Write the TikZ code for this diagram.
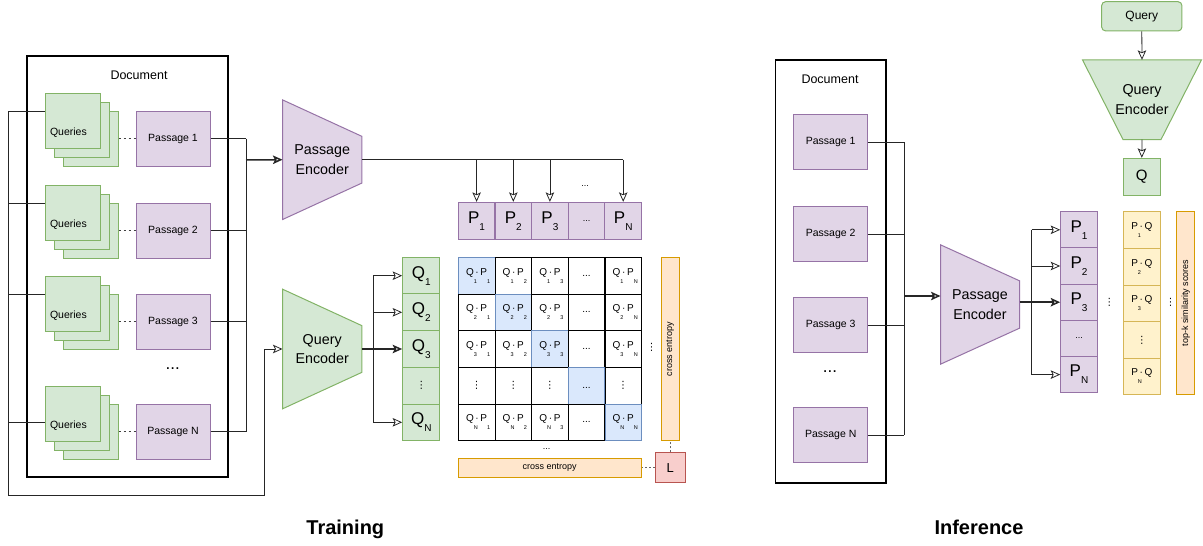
\documentclass[tikz,border=0pt]{standalone}
\usepackage{fontspec}
\setmainfont{Liberation Sans}
\newfontfamily\symfont{DejaVu Sans}
\usetikzlibrary{arrows.meta,backgrounds}

\definecolor{grnfill}{HTML}{D5E8D4}
\definecolor{grnline}{HTML}{82B366}
\definecolor{purfill}{HTML}{E1D5E7}
\definecolor{purline}{HTML}{9673A6}
\definecolor{blufill}{HTML}{DAE8FC}
\definecolor{bluline}{HTML}{6C8EBF}
\definecolor{orgfill}{HTML}{FFE6CC}
\definecolor{orgline}{HTML}{D79B00}
\definecolor{ylwfill}{HTML}{FFF2CC}
\definecolor{ylwline}{HTML}{D6B656}
\definecolor{redfill}{HTML}{F8CECC}
\definecolor{redline}{HTML}{B85450}

\newcommand{\fsz}[1]{\fontsize{#1}{#1}\selectfont}
\newcommand{\vdts}{{\symfont ⋮}}
% big letter with a low index
\newcommand{\vsub}[2]{#1\raisebox{-7pt}{\fsz{10}#2}}
% dot products with small indices under the letters
\newcommand{\qdp}[4]{#1\rlap{\raisebox{-8pt}{\fsz{5.5}#3}}\,·\,#2\rlap{\raisebox{-8pt}{\fsz{5.5}#4}}}
\newcommand{\pqd}[1]{P\rlap{\raisebox{-8pt}{\fsz{5.5}#1}}\,·\,Q}

\begin{document}
\begin{tikzpicture}[x=1pt, y=-1pt,
    link/.style={line width=0.8pt, draw=black!85},
    heavy/.style={line width=1.5pt},
    arr/.style={link, -{Stealth[open, length=9.5pt, width=8.5pt, inset=2pt]}},
    pairline/.style={line width=0.8pt, draw=black!75, dash pattern=on 2.5pt off 2.5pt},
    dotline/.style={line width=0.8pt, draw=black!60, dash pattern=on 2pt off 2pt},
    doc/.style={draw, line width=1.3pt, inner sep=0pt},
    gbox/.style={draw=grnline, fill=grnfill, line width=1pt, inner sep=0pt},
    pbox/.style={draw=purline, fill=purfill, line width=1pt, inner sep=0pt},
    qstack/.style={gbox, minimum width=55, minimum height=55},
    psg/.style={pbox, minimum width=74, minimum height=55, font=\fsz{10.5}},
    enc/.style={inner sep=0pt, align=center, font=\fontsize{14.3}{19.3}\selectfont},
    vcell/.style={pbox, minimum width=36.6, minimum height=36.7, font=\fsz{17}},
    gcell/.style={gbox, minimum width=37.3, minimum height=36.7, font=\fsz{17}},
    cell/.style={draw, line width=0.8pt, minimum width=36.6, minimum height=36.7, inner sep=0pt, font=\fsz{10}},
    diag/.style={cell, draw=bluline, fill=blufill},
    ycell/.style={draw=ylwline, fill=ylwfill, line width=1pt, minimum width=37, minimum height=36.6, inner sep=0pt, font=\fsz{10}},
    ce/.style={draw=orgline, fill=orgfill, line width=1pt, inner sep=0pt, font=\fsz{9}},
    lbl/.style={font=\fsz{10.5}},
    title/.style={font=\bfseries\fsz{20}}]
    \useasboundingbox (0,0) rectangle (1203,546);

    %% ---------------- training ----------------
    \node[doc, minimum width=201, minimum height=421] (tdoc) at (127.5,266.5) {};
    \node[font=\fsz{12.5}] (tdoclbl) at (139,75) {Document};

    \node[enc, minimum width=79, minimum height=119.3] (penc) at (322.2,159.7) {Passage\\Encoder};
    \node[enc, minimum width=79, minimum height=119.3] (qenc) at (322.2,349) {Query\\Encoder};

    \coordinate (tj) at (246,160);
    \foreach \i/\y/\ly/\s in {1/138.5/111.7/1, 2/230.5/203/2, 3/321.5/294.3/3, 4/431.5/422.7/N} {
        \node[qstack] (qc\i) at (90.5,\y) {};
        \node[qstack] (qb\i) at (81.5,\y-9) {};
        \node[qstack] (qf\i) at (72.5,\y-18) {};
        \node[lbl, anchor=west] (ql\i) at (46.5,\y-6) {Queries};
        \node[psg] (tp\i) at (173,\y) {Passage \s};
        \draw[pairline] (qc\i.east) -- (tp\i.west);
        \coordinate (tl\i) at (8.3,\ly);
        \draw[link] (tl\i) -- (tl\i -| qf\i.west);
        \draw[link] (tp\i.east) -- (tp\i.east -| tj);
    }
    \node[font=\fsz{17}] (tdots) at (172.7,369) {...};

    % passages into the passage encoder
    \draw[link] (tp1.east -| tj) -- (tp4.east -| tj);
    \draw[arr, heavy] (tj) -- (penc.west);

    % queries loop round into the query encoder
    \coordinate (tbot) at (264.3,495);
    \draw[arr] (tl1) |- (tbot) |- (qenc.west);

    % passage embeddings
    \foreach \i/\x/\s in {1/476.6/1, 2/513.3/2, 3/549.9/3, 5/623.2/N}
        \node[vcell] (pp\i) at (\x,220.7) {\vsub{P}{\s}};
    \node[vcell, font=\fsz{9}] (pp4) at (586.5,220.7) {...};
    \node[font=\fsz{9}] (ppdots) at (585,186) {...};

    \draw[link, heavy] (penc.east) -- (pp1 |- penc.east);
    \draw[link] (pp1 |- penc.east) -- (pp5 |- penc.east);
    \foreach \i in {1,2,3,5}
        \draw[arr] (pp\i |- penc.east) -- (pp\i.north);

    % query embeddings
    \foreach \i/\y/\s in {1/275.7/1, 2/312.3/2, 3/349/3, 5/422.3/N}
        \node[gcell] (qq\i) at (421.3,\y) {\vsub{Q}{\s}};
    \node[gcell, font=\fsz{10}] (qq4) at (421.3,385.7) {\vdts};

    \coordinate (qj) at (373,349);
    \draw[link, heavy] (qenc.east) -- (qj);
    \draw[link] (qj |- qq1.west) -- (qj |- qq5.west);
    \foreach \i in {1,2,5}
        \draw[arr] (qj |- qq\i.west) -- (qq\i.west);
    \draw[arr, heavy] (qj) -- (qq3.west);

    % score matrix
    \foreach \r/\ry/\rl in {1/275.7/1, 2/312.3/2, 3/349/3, 4/385.7/x, 5/422.3/N}
        \foreach \c/\cx/\cl in {1/476.6/1, 2/513.3/2, 3/549.9/3, 4/586.5/x, 5/623.2/N} {
            \ifnum\c=4
                \ifnum\r=4 \def\txt{\raisebox{-6pt}{...}}\else\def\txt{...}\fi
            \else
                \ifnum\r=4 \def\txt{\vdts}\else\def\txt{\qdp{Q}{P}{\rl}{\cl}}\fi
            \fi
            \ifnum\r=\c \def\sty{diag}\else\def\sty{cell}\fi
            \node[\sty] (m\r\c) at (\cx,\ry) {\txt};
        }
    \node[font=\fsz{10}] (mvdots) at (651.7,347.7) {\vdts};
    \node[font=\fsz{9}] (mhdots) at (546.7,449) {...};

    % loss
    \node[ce, rotate=90, minimum width=183.4, minimum height=18.3] (cev) at (670.2,349) {cross entropy};
    \node[ce, minimum width=182.7, minimum height=19] (ceh) at (549.7,467.6) {cross entropy};
    \node[draw=redline, fill=redfill, line width=1pt, minimum width=29.7, minimum height=29.6, font=\fsz{13}] (loss) at (670.2,467.6) {L};
    \draw[dotline] (loss.west) -- (ceh.east);
    \draw[dotline] (loss.north) -- (cev.west);

    \node[title, anchor=base] (ttrain) at (345.3,534.3) {Training};

    %% ---------------- inference ----------------
    \node[doc, minimum width=110.3, minimum height=423] (idoc) at (830.9,271.5) {};
    \node[font=\fsz{12.5}] (idoclbl) at (830,79) {Document};

    \node[enc, minimum width=78.6, minimum height=119] (ienc) at (980,304.5) {Passage\\Encoder};

    \coordinate (ij) at (904,296);
    \foreach \i/\y/\s in {1/142.2/1, 2/233.9/2, 3/325.2/3, 4/435/N} {
        \node[psg] (ip\i) at (830.7,\y) {Passage \s};
        \draw[link] (ip\i.east) -- (ip\i.east -| ij);
    }
    \node[font=\fsz{17}] (idots) at (830,372) {...};
    \draw[link] (ip1.east -| ij) -- (ip4.east -| ij);
    \draw[arr, heavy] (ij) -- (ij -| ienc.west);

    % passage embeddings
    \foreach \i/\y/\s in {1/229.8/1, 2/266/2, 3/302.2/3, 5/374.6/N}
        \node[vcell, minimum height=36.2] (ipc\i) at (1079,\y) {\vsub{P}{\s}};
    \node[vcell, minimum height=36.2, font=\fsz{9}] (ipc4) at (1079,338.4) {...};

    \coordinate (ioj) at (1031.7,302.2);
    \draw[link, heavy] (ioj -| ienc.east) -- (ioj);
    \draw[link] (ioj |- ipc1.west) -- (ioj |- ipc5.west);
    \foreach \i in {1,2,5}
        \draw[arr] (ioj |- ipc\i.west) -- (ipc\i.west);
    \draw[arr, heavy] (ioj) -- (ipc3.west);

    \node[font=\fsz{10}] (ivd1) at (1109.3,302.7) {\vdts};

    % similarity scores
    \foreach \i/\y/\s in {1/230/1, 2/266.7/2, 3/303.3/3, 5/376.3/N}
        \node[ycell] (sc\i) at (1141.8,\y) {\pqd{\s}};
    \node[ycell] (sc4) at (1141.8,340) {\vdts};
    \node[font=\fsz{10}] (ivd2) at (1170.7,302.7) {\vdts};
    \node[ce, rotate=90, minimum width=182.6, minimum height=18.3] (topk) at (1185.8,303) {top-k similarity scores};

    % query branch
    \node[gbox, rounded corners=4pt, minimum width=80.3, minimum height=29.3, font=\fsz{12}] (qin) at (1141.8,16.3) {Query};
    \node[enc, minimum width=118.6, minimum height=79.3] (ienq) at (1142,99.7) {Query\\Encoder};
    \node[gcell, minimum width=37, font=\fsz{15}] (iq) at (1141.8,176.7) {Q};
    \draw[arr] (qin.south) -- (ienq.north);
    \draw[arr] (ienq.south) -- (iq.north);

    \node[title, anchor=base] (tinfer) at (979,534.3) {Inference};

    % encoder bodies
    \begin{scope}[on background layer]
        \draw[pbox] (penc.north west) -- ([yshift=-36.5]penc.north east) -- ([yshift=36.5]penc.south east) -- (penc.south west) -- cycle;
        \draw[gbox] (qenc.north west) -- ([yshift=-36.5]qenc.north east) -- ([yshift=36.5]qenc.south east) -- (qenc.south west) -- cycle;
        \draw[pbox] (ienc.north west) -- ([yshift=-36]ienc.north east) -- ([yshift=36]ienc.south east) -- (ienc.south west) -- cycle;
        \draw[gbox] (ienq.north west) -- (ienq.north east) -- ([xshift=-40.5]ienq.south east) -- ([xshift=40.5]ienq.south west) -- cycle;
    \end{scope}
\end{tikzpicture}
\end{document}
